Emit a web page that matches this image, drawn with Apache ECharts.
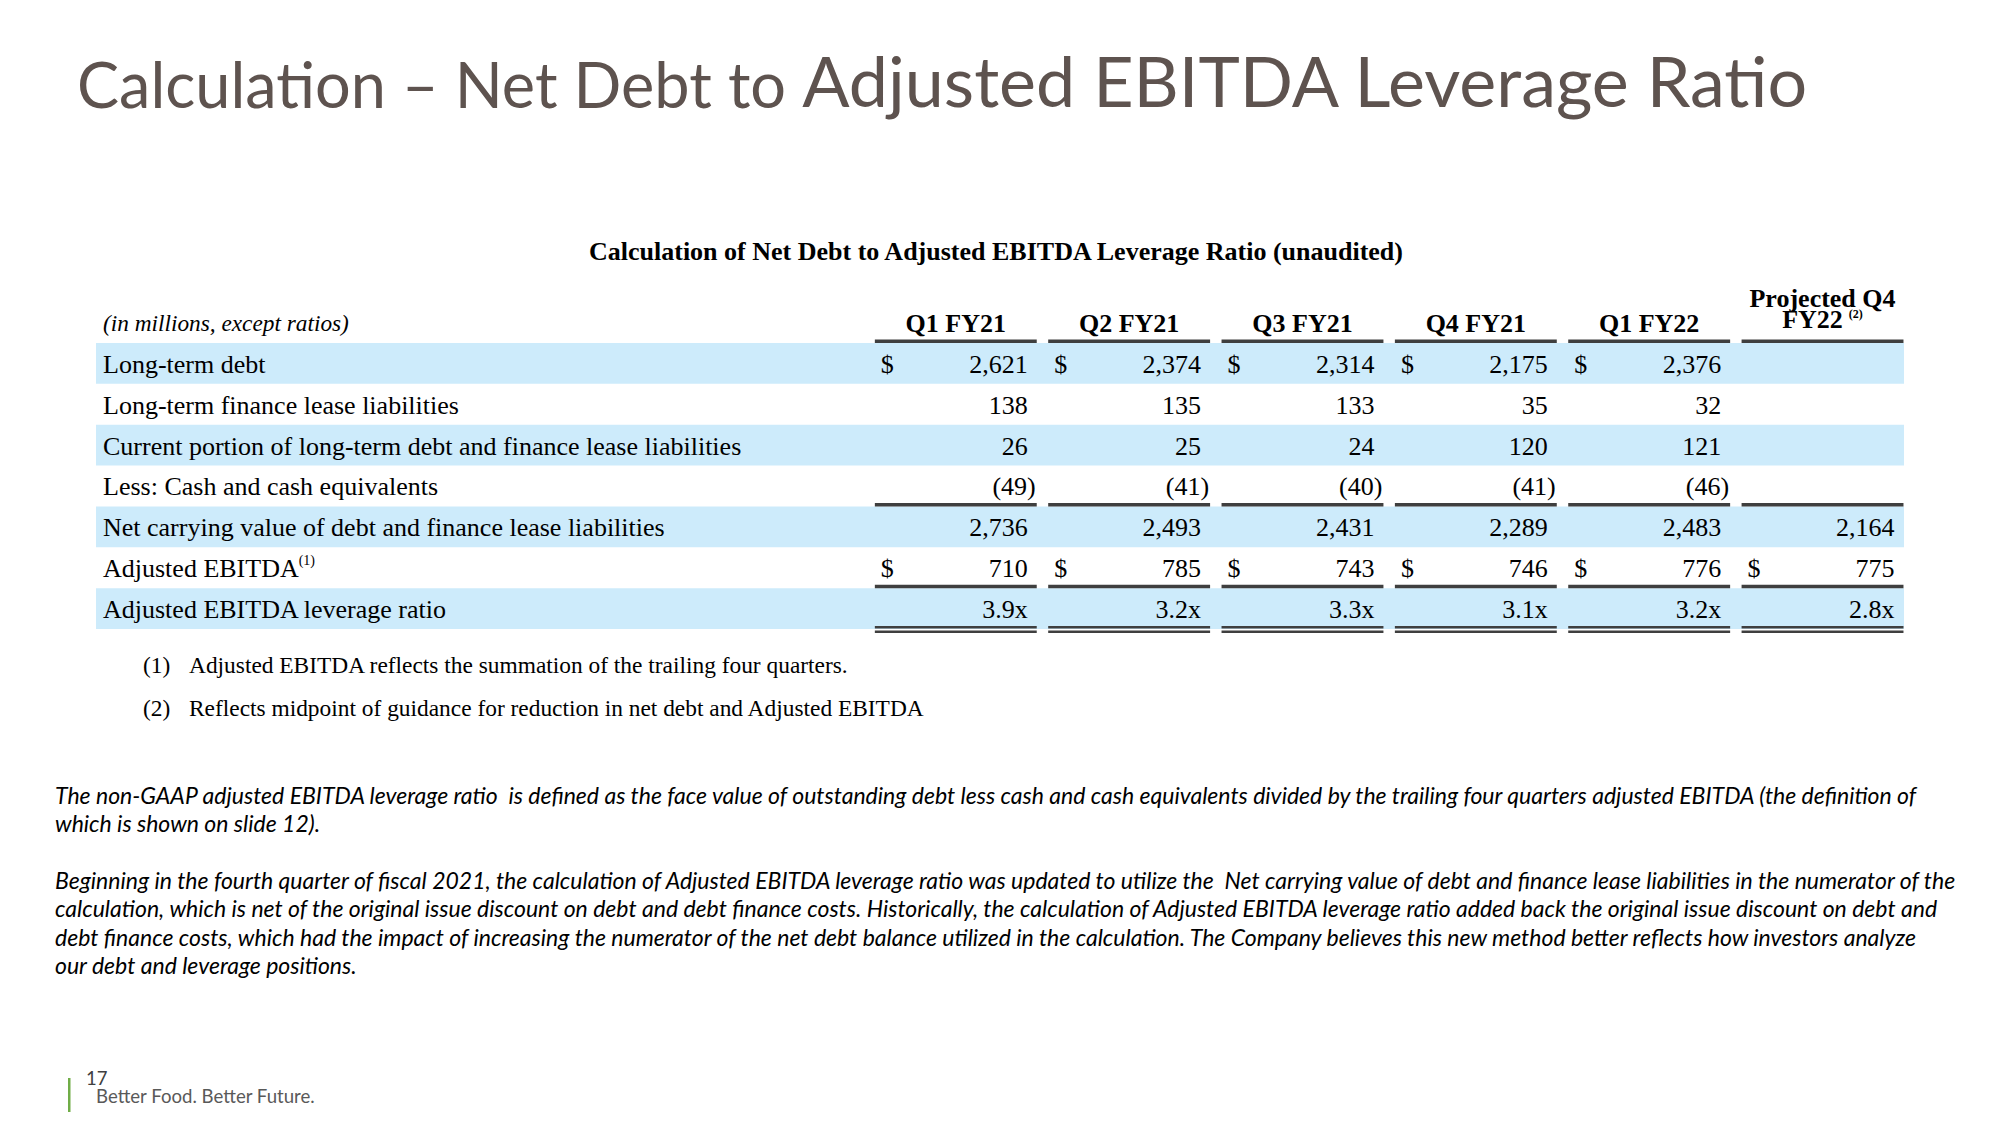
<!DOCTYPE html>
<html><head><meta charset="utf-8">
<script src="https://cdn.jsdelivr.net/npm/echarts@6/dist/echarts.min.js"></script>
<style>html,body{margin:0;padding:0;background:#fff}#c{width:2000px;height:1125px}</style>
</head><body><div id="c"></div>
<script>
// ---------- data ----------
const columns = ['Q1 FY21', 'Q2 FY21', 'Q3 FY21', 'Q4 FY21', 'Q1 FY22', 'Projected Q4 FY22'];
const projectedNote = '(2)';
const unitsLabel = '(in millions, except ratios)';
const rowLabels = [
  'Long-term debt',
  'Long-term finance lease liabilities',
  'Current portion of long-term debt and finance lease liabilities',
  'Less: Cash and cash equivalents',
  'Net carrying value of debt and finance lease liabilities',
  'Adjusted EBITDA',
  'Adjusted EBITDA leverage ratio'
];
const rowNotes = ['', '', '', '', '', '(1)', ''];
const longTermDebt   = [2621, 2374, 2314, 2175, 2376, null];
const financeLease   = [138, 135, 133, 35, 32, null];
const currentPortion = [26, 25, 24, 120, 121, null];
const cashEquivalents = [-49, -41, -40, -41, -46, null];
const netCarrying    = [2736, 2493, 2431, 2289, 2483, 2164];
const adjustedEbitda = [710, 785, 743, 746, 776, 775];
const leverageRatio  = [3.9, 3.2, 3.3, 3.1, 3.2, 2.8];
const footnoteMarks = ['(1)', '(2)'];
const footnotes = [
  'Adjusted EBITDA reflects the summation of the trailing four quarters.',
  'Reflects midpoint of guidance for reduction in net debt and Adjusted EBITDA'
];
const mainTitleA = 'Calculation – Net Debt to ';
const mainTitleB = 'Adjusted EBITDA Leverage Ratio';
const tableTitle = 'Calculation of Net Debt to Adjusted EBITDA Leverage Ratio (unaudited)';
const para1 = [
  'The non-GAAP adjusted EBITDA leverage ratio  is defined as the face value of outstanding debt less cash and cash equivalents divided by the trailing four quarters adjusted EBITDA (the definition of',
  'which is shown on slide 12).'
];
const para2 = [
  'Beginning in the fourth quarter of fiscal 2021, the calculation of Adjusted EBITDA leverage ratio was updated to utilize the  Net carrying value of debt and finance lease liabilities in the numerator of the',
  'calculation, which is net of the original issue discount on debt and debt finance costs. Historically, the calculation of Adjusted EBITDA leverage ratio added back the original issue discount on debt and',
  'debt finance costs, which had the impact of increasing the numerator of the net debt balance utilized in the calculation. The Company believes this new method better reflects how investors analyze',
  'our debt and leverage positions.'
];
const pageNumber = '17';
const tagline = 'Better Food. Better Future.';

// ---------- setup ----------
const rowValues = [longTermDebt, financeLease, currentPortion, cashEquivalents, netCarrying, adjustedEbitda, leverageRatio];
const dollarRows = [0, 5];
const ratioRow = 6;
const ruleRowsSingle = [0, 4, 6];   // axis rows with a rule beneath
const ruleRowDouble = 7;

const SERIF = '"Liberation Serif", "Times New Roman", serif';
const SANS = 'Lato, "Open Sans", sans-serif';
const X_MIN = -4.96, X_MAX = 5.47, HALF = 0.467;
const TFS = 26;
const BAND = '#cdebfb';
const RULE = '#3f3f3f';
const TITLE_C = '#5e534f';

function fmt(r, v) {
  if (r === ratioRow) return v.toFixed(1) + 'x';
  const s = Math.abs(v).toLocaleString('en-US');
  return v < 0 ? '(' + s + ')' : s;
}

const cellData = [];
rowValues.forEach((arr, r) => arr.forEach((v, c) => { if (v !== null) cellData.push([c, r + 1, v, r]); }));
const bandData = rowLabels.map((_, i) => i).filter(i => i % 2 === 0).map(i => [0, i + 1]);
const ruleData = [];
columns.forEach((_, c) => {
  ruleRowsSingle.forEach(r => ruleData.push([c, r, 1]));
  ruleData.push([c, ruleRowDouble, 2]);
});
const headerData = columns.map((_, i) => [i, 0]);
const labelData = [[X_MIN, 0]].concat(rowLabels.map((_, i) => [X_MIN, i + 1]));

const chart = echarts.init(document.getElementById('c'), null, { renderer: 'svg', width: 2000, height: 1125 });

const option = {
  backgroundColor: '#ffffff',
  animation: false,
  grid: { left: 96, right: 96, top: 302, height: 327, containLabel: false },
  xAxis: { type: 'value', min: X_MIN, max: X_MAX, show: false },
  yAxis: { type: 'category', data: [unitsLabel].concat(rowLabels), inverse: true, show: false },
  series: [
    {
      type: 'custom', name: 'bands', z: 1, silent: true,
      data: bandData, encode: { x: 0, y: 1 },
      renderItem(params, api) {
        const r = api.value(1);
        const A = api.coord([X_MIN, r]), B = api.coord([X_MAX, r]);
        const h = api.size([0, 1])[1];
        return { type: 'rect', shape: { x: A[0], y: A[1] - h / 2, width: B[0] - A[0], height: h }, style: { fill: BAND } };
      }
    },
    {
      type: 'custom', name: 'rules', z: 3, silent: true,
      data: ruleData, encode: { x: 0, y: 1 },
      renderItem(params, api) {
        const c = api.value(0), r = api.value(1), kind = api.value(2);
        const A = api.coord([c - HALF, r]), B = api.coord([c + HALF, r]);
        const h = api.size([0, 1])[1];
        const yb = A[1] + h / 2;
        const w = B[0] - A[0];
        if (kind === 1) {
          return { type: 'rect', shape: { x: A[0], y: yb - 3.5, width: w, height: 3.5 }, style: { fill: RULE } };
        }
        return { type: 'group', children: [
          { type: 'rect', shape: { x: A[0], y: yb - 3, width: w, height: 2.5 }, style: { fill: RULE } },
          { type: 'rect', shape: { x: A[0], y: yb + 1.5, width: w, height: 2.5 }, style: { fill: RULE } }
        ] };
      }
    },
    {
      type: 'custom', name: 'headers', z: 4, silent: true,
      data: headerData, encode: { x: 0, y: 1 },
      renderItem(params, api) {
        const i = params.dataIndex;
        const p = api.coord([api.value(0), api.value(1)]);
        const base = { fontFamily: SERIF, fontWeight: 'bold', fontSize: TFS, fill: '#000' };
        if (i < columns.length - 1) {
          return { type: 'text', style: Object.assign({ text: columns[i], x: p[0], y: p[1] + 1, align: 'center', verticalAlign: 'middle' }, base) };
        }
        const parts = columns[i].split(' ');
        return { type: 'group', children: [
          { type: 'text', style: Object.assign({ text: parts[0] + ' ' + parts[1], x: p[0], y: p[1] - 24, align: 'center', verticalAlign: 'middle' }, base) },
          { type: 'text', style: {
            text: '{b|' + parts[2] + '}{g|}{s|' + projectedNote + '}', x: p[0], y: p[1] - 3, align: 'center', verticalAlign: 'middle',
            rich: {
              b: Object.assign({ lineHeight: 22 }, base),
              g: { width: 6, lineHeight: 22 },
              s: { fontFamily: SERIF, fontWeight: 'bold', fontSize: 12, lineHeight: 12, verticalAlign: 'top', fill: '#000' }
            }
          } }
        ] };
      }
    },
    {
      type: 'custom', name: 'labels', z: 4, silent: true,
      data: labelData, encode: { x: 0, y: 1 },
      renderItem(params, api) {
        const i = params.dataIndex;
        const p = api.coord([api.value(0), api.value(1)]);
        if (i === 0) {
          return { type: 'text', style: { text: unitsLabel, x: p[0] + 7, y: p[1] + 1, align: 'left', verticalAlign: 'middle',
            fontFamily: SERIF, fontStyle: 'italic', fontSize: 23.3, fill: '#000' } };
        }
        const note = rowNotes[i - 1];
        return { type: 'text', style: {
          text: '{t|' + rowLabels[i - 1] + '}' + (note ? '{s|' + note + '}' : ''),
          x: p[0] + 7, y: p[1] + 1, align: 'left', verticalAlign: 'middle',
          rich: {
            t: { fontFamily: SERIF, fontSize: TFS, lineHeight: 30, fill: '#000' },
            s: { fontFamily: SERIF, fontSize: 14, lineHeight: 14, verticalAlign: 'top', fill: '#000' }
          }
        } };
      }
    },
    {
      type: 'custom', name: 'cells', z: 4, silent: true,
      data: cellData, encode: { x: 0, y: 1 },
      renderItem(params, api) {
        const c = api.value(0), ra = api.value(1), v = api.value(2), r = api.value(3);
        const L = api.coord([c - HALF, ra]), R = api.coord([c + HALF, ra]);
        const base = { fontFamily: SERIF, fontSize: TFS, fill: '#000', verticalAlign: 'middle' };
        const children = [
          { type: 'text', style: Object.assign({ text: fmt(r, v), x: R[0] - 9 + (v < 0 ? 8 : 0), y: L[1] + 1, align: 'right' }, base) }
        ];
        if (dollarRows.indexOf(r) >= 0) {
          children.push({ type: 'text', style: Object.assign({ text: '$', x: L[0] + 6, y: L[1] + 1, align: 'left' }, base) });
        }
        return { type: 'group', children };
      }
    }
  ],
  graphic: [
    { type: 'text', z: 10, style: {
      text: '{a|' + mainTitleA + '}{b|' + mainTitleB + '}', x: 77, y: 76, verticalAlign: 'middle', align: 'left',
      rich: {
        a: { fontFamily: SANS, fontSize: 63, lineHeight: 69, verticalAlign: 'bottom', fill: TITLE_C },
        b: { fontFamily: SANS, fontSize: 70, lineHeight: 77, verticalAlign: 'bottom', fill: TITLE_C }
      } } },
    { type: 'text', z: 10, style: { text: tableTitle, x: 996, y: 251, align: 'center', verticalAlign: 'middle',
      fontFamily: SERIF, fontWeight: 'bold', fontSize: 26, fill: '#000' } },
    { type: 'text', z: 10, style: { text: footnoteMarks[0], x: 143, y: 665, align: 'left', verticalAlign: 'middle', fontFamily: SERIF, fontSize: 23.4, fill: '#000' } },
    { type: 'text', z: 10, style: { text: footnotes[0], x: 189, y: 665, align: 'left', verticalAlign: 'middle', fontFamily: SERIF, fontSize: 23.4, fill: '#000' } },
    { type: 'text', z: 10, style: { text: footnoteMarks[1], x: 143, y: 708, align: 'left', verticalAlign: 'middle', fontFamily: SERIF, fontSize: 23.4, fill: '#000' } },
    { type: 'text', z: 10, style: { text: footnotes[1], x: 189, y: 708, align: 'left', verticalAlign: 'middle', fontFamily: SERIF, fontSize: 23.4, fill: '#000' } },
    { type: 'text', z: 10, style: { text: para1.join('\n'), x: 55, y: 781, align: 'left', verticalAlign: 'top',
      fontFamily: SANS, fontStyle: 'italic', fontSize: 23, lineHeight: 28, fill: '#000' } },
    { type: 'text', z: 10, style: { text: para2.join('\n'), x: 55, y: 866, align: 'left', verticalAlign: 'top',
      fontFamily: SANS, fontStyle: 'italic', fontSize: 23, lineHeight: 28.3, fill: '#000' } },
    { type: 'rect', z: 10, shape: { x: 68, y: 1078, width: 2.5, height: 34 }, style: { fill: '#70ad47' } },
    { type: 'text', z: 10, style: { text: pageNumber, x: 86, y: 1078, align: 'left', verticalAlign: 'middle', fontFamily: SANS, fontSize: 18.5, fill: '#404040' } },
    { type: 'text', z: 10, style: { text: tagline, x: 96, y: 1096, align: 'left', verticalAlign: 'middle', fontFamily: SANS, fontSize: 18.6, fill: '#595959' } }
  ]
};
chart.setOption(option);
</script>
</body></html>
